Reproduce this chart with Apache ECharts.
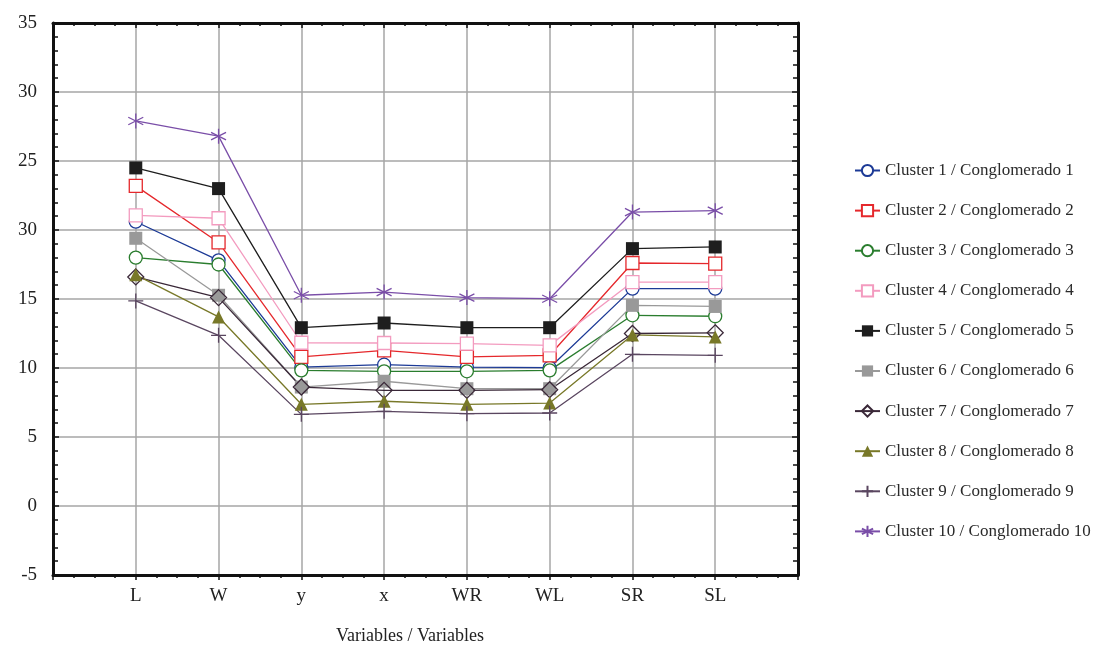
<!DOCTYPE html>
<html>
<head>
<meta charset="utf-8">
<script src="https://cdn.jsdelivr.net/npm/echarts@6/dist/echarts.min.js"></script>
<style>html,body{margin:0;padding:0;background:#fff}#c{width:1098px;height:650px}</style>
</head>
<body>
<div id="c"></div>
<script>
const categories = ['L', 'W', 'y', 'x', 'WR', 'WL', 'SR', 'SL'];
const yTickLabels = ['-5', '0', '5', '10', '15', '30', '25', '30', '35'];
const seriesNames = [
  'Cluster 1 / Conglomerado 1', 'Cluster 2 / Conglomerado 2', 'Cluster 3 / Conglomerado 3',
  'Cluster 4 / Conglomerado 4', 'Cluster 5 / Conglomerado 5', 'Cluster 6 / Conglomerado 6',
  'Cluster 7 / Conglomerado 7', 'Cluster 8 / Conglomerado 8', 'Cluster 9 / Conglomerado 9',
  'Cluster 10 / Conglomerado 10'
];
const cluster1 = [20.6, 17.8, 10.07, 10.24, 10.07, 10.02, 15.75, 15.75];
const cluster2 = [23.2, 19.1, 10.8, 11.28, 10.8, 10.92, 17.61, 17.56];
const cluster3 = [18.0, 17.5, 9.83, 9.76, 9.76, 9.83, 13.82, 13.75];
const cluster4 = [21.06, 20.85, 11.83, 11.81, 11.76, 11.64, 16.23, 16.23];
const cluster5 = [24.5, 23.0, 12.92, 13.26, 12.92, 12.92, 18.65, 18.77];
const cluster6 = [19.4, 15.27, 8.62, 9.04, 8.5, 8.5, 14.54, 14.46];
const cluster7 = [16.6, 15.1, 8.62, 8.38, 8.38, 8.43, 12.5, 12.55];
const cluster8 = [16.75, 13.7, 7.37, 7.59, 7.37, 7.46, 12.4, 12.25];
const cluster9 = [14.86, 12.37, 6.64, 6.86, 6.69, 6.74, 10.99, 10.92];
const cluster10 = [27.9, 26.8, 15.27, 15.5, 15.1, 15.02, 21.3, 21.4];

const clusters = [cluster1, cluster2, cluster3, cluster4, cluster5, cluster6, cluster7, cluster8, cluster9, cluster10];
const colors = ['#1c3a96', '#e5282c', '#2a7d2e', '#f39bbf', '#1e1e1e', '#999999', '#3a2838', '#787828', '#5a4660', '#7a4ea8'];
const PLUS = 'path://M-10,0L10,0M0,-10L0,10';
const STAR = 'path://M0,-10L0,10M-8.66,-5L8.66,5M-8.66,5L8.66,-5';
const styles = [
  {symbol: 'circle', size: 13, fill: '#fff'},
  {symbol: 'rect', size: 13, fill: '#fff'},
  {symbol: 'circle', size: 13, fill: '#fff'},
  {symbol: 'rect', size: 13, fill: '#fff'},
  {symbol: 'rect', size: 13, fill: null},
  {symbol: 'rect', size: 13, fill: null},
  {symbol: 'diamond', size: 16, fill: 'transparent'},
  {symbol: 'triangle', size: 13, fill: null},
  {symbol: PLUS, size: 15, fill: null, path: true},
  {symbol: STAR, size: 15, fill: null, path: true}
];

const FONT = 'Liberation Serif';
const chart = echarts.init(document.getElementById('c'), null, {renderer: 'canvas'});

const series = clusters.map((vals, i) => {
  const st = styles[i];
  const c = colors[i];
  const itemStyle = st.path
    ? {color: c, borderColor: c, borderWidth: 1.3}
    : (st.fill ? {color: st.fill, borderColor: c, borderWidth: 1.3} : {color: c, borderColor: c, borderWidth: 0});
  return {
    name: seriesNames[i],
    type: 'line',
    xAxisIndex: 0,
    yAxisIndex: 0,
    data: vals.map((v, j) => [j + 1, v]),
    symbol: st.symbol,
    symbolSize: st.size,
    showAllSymbol: true,
    lineStyle: {color: c, width: 1.3},
    itemStyle: itemStyle,
    emphasis: {disabled: true},
    animation: false
  };
});

const frameLine = {show: true, onZero: false, lineStyle: {color: '#111', width: 3}};

chart.setOption({
  animation: false,
  backgroundColor: '#fff',
  grid: {left: 53, right: 300, top: 23, bottom: 72, containLabel: false},
  legend: {
    orient: 'vertical',
    left: 849,
    top: 157,
    itemWidth: 25,
    itemHeight: 14,
    itemGap: 23.1,
    textStyle: {fontFamily: FONT, fontSize: 17, color: '#2a2a2a'},
    data: seriesNames
  },
  xAxis: [
    {
      type: 'value', position: 'bottom', min: 0, max: 9, interval: 1,
      axisLine: frameLine,
      axisTick: {show: true, inside: false, length: 5, lineStyle: {color: '#111', width: 1.5}},
      minorTick: {show: true, splitNumber: 4, length: 3, lineStyle: {color: '#111', width: 1.5}},
      splitLine: {show: true, lineStyle: {color: '#a6a6a6', width: 1.5}},
      axisLabel: {
        margin: 12, fontFamily: FONT, fontSize: 19, color: '#222',
        formatter: v => categories[v - 1] || ''
      },
      name: 'Variables / Variables',
      nameLocation: 'middle',
      nameGap: 52,
      nameTextStyle: {fontFamily: FONT, fontSize: 18, color: '#222', padding: [0, 31, 0, 0]}
    },
    {
      type: 'value', position: 'top', min: 0, max: 9, interval: 1,
      axisLine: frameLine,
      axisTick: {show: true, inside: true, length: 5, lineStyle: {color: '#111', width: 1.5}},
      minorTick: {show: true, splitNumber: 4, length: 3, lineStyle: {color: '#111', width: 1.5}},
      splitLine: {show: false},
      axisLabel: {show: false}
    }
  ],
  yAxis: [
    {
      type: 'value', position: 'left', min: -5, max: 35, interval: 5,
      axisLine: frameLine,
      axisTick: {show: true, inside: true, length: 6, lineStyle: {color: '#111', width: 1.5}},
      minorTick: {show: true, splitNumber: 5, length: 5, lineStyle: {color: '#111', width: 1.5}},
      splitLine: {show: true, lineStyle: {color: '#a6a6a6', width: 1.5}},
      axisLabel: {
        margin: 16, fontFamily: FONT, fontSize: 19, color: '#222',
        padding: [0, 0, 7, 0],
        formatter: v => yTickLabels[Math.round((v + 5) / 5)]
      }
    },
    {
      type: 'value', position: 'right', min: -5, max: 35, interval: 5,
      axisLine: frameLine,
      axisTick: {show: true, inside: true, length: 6, lineStyle: {color: '#111', width: 1.5}},
      minorTick: {show: true, splitNumber: 5, length: 5, lineStyle: {color: '#111', width: 1.5}},
      splitLine: {show: false},
      axisLabel: {show: false}
    }
  ],
  series: series
});
</script>
</body>
</html>
